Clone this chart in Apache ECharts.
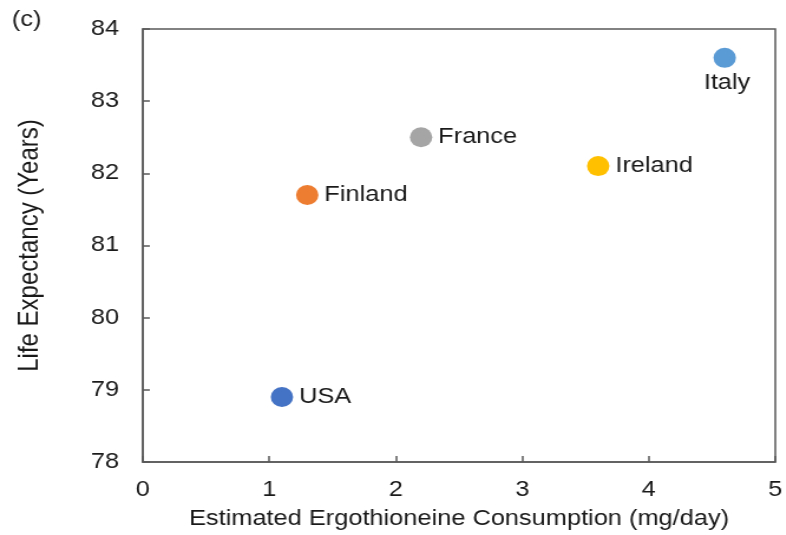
<!DOCTYPE html>
<html>
<head>
<meta charset="utf-8">
<script src="https://cdn.jsdelivr.net/npm/echarts@6/dist/echarts.min.js"></script>
<style>
  html, body { margin: 0; padding: 0; background: #fff; overflow: hidden; }
  /* the figure is drawn slightly narrow and widened horizontally */
  #chart { width: 666px; height: 535px; transform: scaleX(1.18); transform-origin: 0 0; }
</style>
</head>
<body>
<div id="chart"></div>
<script>
// Ergothioneine intake vs. life expectancy by country
const countries = ['USA', 'Finland', 'France', 'Ireland', 'Italy'];
const consumption = [1.1, 1.3, 2.2, 3.6, 4.6];        // mg/day
const lifeExpectancy = [78.9, 81.7, 82.5, 82.1, 83.6]; // years
const colors = ['#4472C4', '#ED7D31', '#A5A5A5', '#FFC000', '#5B9BD5'];
const xTicks = [0, 1, 2, 3, 4, 5];
const yTicks = [78, 79, 80, 81, 82, 83, 84];

const font = 'Liberation Sans, Arial, sans-serif';
const axisColor = '#595959';
const textColor = '#1a1a1a';

const series = countries.map((name, i) => ({
  type: 'scatter',
  name: name,
  symbolSize: [19, 20],
  data: [[consumption[i], lifeExpectancy[i]]],
  itemStyle: { color: colors[i], opacity: 1 },
  label: {
    show: true,
    formatter: name,
    position: name === 'Italy' ? 'bottom' : 'right',
    distance: name === 'Italy' ? 4 : 5,
    offset: name === 'Italy' ? [2, 0] : [0, 0],
    color: textColor,
    fontFamily: font,
    fontSize: 21.5
  }
}));

const chart = echarts.init(document.getElementById('chart'), null, { renderer: 'canvas' });
chart.setOption({
  animation: false,
  backgroundColor: '#fff',
  grid: {
    left: 121, right: 7, top: 29, bottom: 73,
    show: true, borderColor: axisColor, borderWidth: 1.5, backgroundColor: 'transparent'
  },
  graphic: [{
    type: 'text', left: 10, top: 9,
    style: { text: '(c)', fontFamily: font, fontSize: 21.5, fill: textColor }
  }],
  xAxis: {
    type: 'value', min: xTicks[0], max: xTicks[xTicks.length - 1], interval: 1,
    name: 'Estimated Ergothioneine Consumption (mg/day)',
    nameLocation: 'middle', nameGap: 46,
    nameTextStyle: { fontFamily: font, fontSize: 21.5, color: textColor },
    axisLine: { show: true, lineStyle: { color: axisColor, width: 1.5 } },
    axisTick: { show: true, inside: true, length: 6, lineStyle: { color: axisColor, width: 1.5 } },
    axisLabel: { margin: 17, fontFamily: font, fontSize: 21.5, color: textColor },
    splitLine: { show: false }
  },
  yAxis: {
    type: 'value', min: yTicks[0], max: yTicks[yTicks.length - 1], interval: 1,
    name: 'Life Expectancy (Years)',
    nameLocation: 'middle', nameGap: 84, nameRotate: 90,
    nameTextStyle: { fontFamily: font, fontSize: 24, color: textColor },
    axisLine: { show: true, lineStyle: { color: axisColor, width: 1.5 } },
    axisTick: { show: true, inside: true, length: 6, lineStyle: { color: axisColor, width: 1.5 } },
    axisLabel: { margin: 20, fontFamily: font, fontSize: 21.5, color: textColor },
    splitLine: { show: false }
  },
  series: series
});
</script>
</body>
</html>
